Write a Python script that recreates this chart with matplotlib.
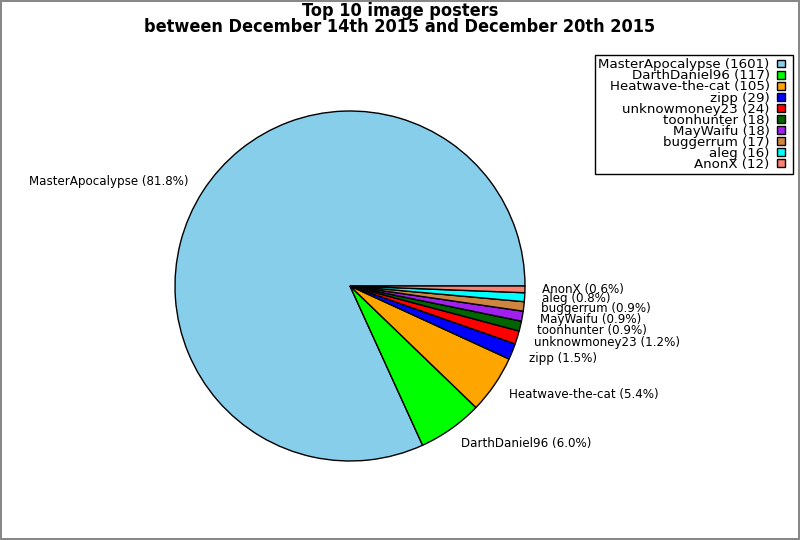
import matplotlib
matplotlib.use("Agg")
import matplotlib.pyplot as plt
from matplotlib.patches import Rectangle, Wedge
from matplotlib.legend_handler import HandlerPatch

names = ["MasterApocalypse", "DarthDaniel96", "Heatwave-the-cat", "zipp", "unknowmoney23",
         "toonhunter", "MayWaifu", "buggerrum", "aleg", "AnonX"]
counts = [1601, 117, 105, 29, 24, 18, 18, 17, 16, 12]
colors = ["#87ceeb", "#00ff00", "#ffa500", "#0000ff", "#ff0000",
          "#006400", "#a020f0", "#cd853f", "#00ffff", "#fa8072"]
title = "Top 10 image posters\nbetween December 14th 2015 and December 20th 2015"

total = sum(counts)
pie_labels = [f"{n} ({c / total * 100:.1f}%)" for n, c in zip(names, counts)]
legend_labels = [f"{n} ({c})" for n, c in zip(names, counts)]

fig = plt.figure(figsize=(8, 5.4), dpi=100)
fig.patch.set_edgecolor("#888888")
fig.patch.set_linewidth(1.5)

ax = fig.add_axes([175 / 800, 79 / 540, 350 / 800, 350 / 540])
wedges, texts = ax.pie(counts, labels=pie_labels, colors=colors, startangle=0,
                       counterclock=True, labeldistance=1.1,
                       wedgeprops=dict(edgecolor="black", linewidth=1),
                       textprops=dict(fontsize=8.6))
ax.set_xlim(-1, 1)
ax.set_ylim(-1, 1)
ax.set_aspect("equal")

fig.text(0.5, 1 - 2 / 540, title, ha="center", va="top", fontsize=13,
         fontweight="bold", fontstretch="condensed", linespacing=0.88)


def small_box(legend, orig_handle, xdescent, ydescent, width, height, fontsize):
    side = 5.5  # points
    return Rectangle((-xdescent, -ydescent + (height - side) / 2), side, side)


leg = fig.legend(wedges, legend_labels, loc="upper right",
                 bbox_to_anchor=(793 / 800, 1 - 55 / 540), bbox_transform=fig.transFigure,
                 borderaxespad=0, markerfirst=False, fancybox=False, framealpha=1,
                 edgecolor="black", fontsize=9.6, handlelength=0.95, handleheight=0.6,
                 labelspacing=-0.145, handletextpad=0.55, borderpad=0.25,
                 handler_map={Wedge: HandlerPatch(patch_func=small_box)})
leg.get_frame().set_linewidth(1)
for h in leg.legend_handles:
    h.set_edgecolor("black")
    h.set_linewidth(1)

fig.savefig("out.png", dpi=100, edgecolor=fig.get_edgecolor())
